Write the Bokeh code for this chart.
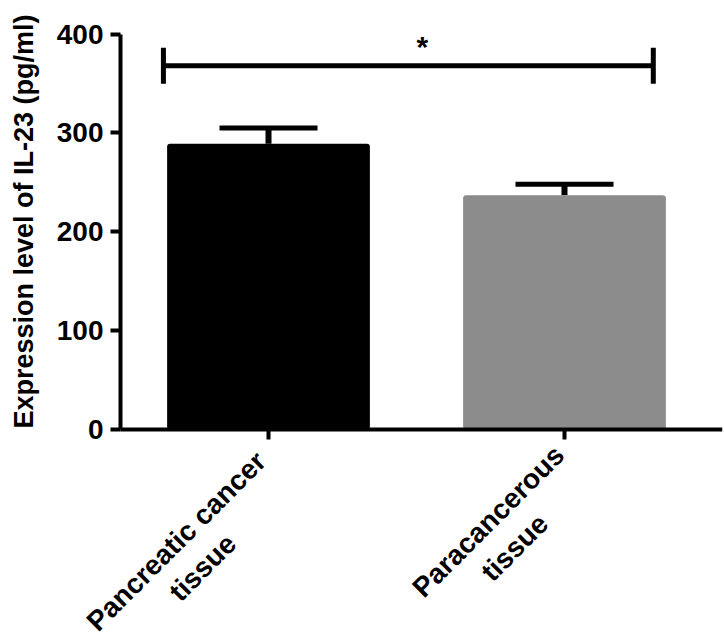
import math
from bokeh.plotting import figure
from bokeh.models import Range1d, FixedTicker, Whisker, TeeHead, ColumnDataSource
from bokeh.embed import file_html
from bokeh.resources import INLINE
from bokeh.core.properties import value

# ---- data ----
categories = ["Pancreatic cancer\ntissue", "Paracancerous\ntissue"]
means = [289, 237]
sems = [16, 11]
bar_colors = ["#000000", "#8c8c8c"]
y_ticks = [0, 100, 200, 300, 400]
y_title = ["Expression level of IL-23 (pg/ml)"]
sig_span = [0.145, 1.80]     # x extent of the significance bracket (category units)
sig_level = [368]
sig_text = ["*"]
sig_text_x = [1.02]
sig_text_y = [387]

FONT = "Liberation Sans"

# ---- layout constants (pixels) ----
W, H = 724, 644
AXIS_X = 120                  # screen x of the y axis
RIGHT = 2
ZERO_PX, TOP_PX = 429, 33.5   # screen y of value 0 and of value 400
PX_X = 296                    # pixels per category

py = (ZERO_PX - TOP_PX) / y_ticks[-1]
y_lo = -(H - ZERO_PX) / py
y_hi = ZERO_PX / py
x_lo = -AXIS_X / PX_X
x_hi = (W - RIGHT - AXIS_X) / PX_X

xpos = [i + 0.5 for i in range(len(categories))]
upper = [m + s for m, s in zip(means, sems)]
src = ColumnDataSource(dict(x=xpos, top=means, upper=upper, color=bar_colors))

p = figure(width=W, height=H,
           x_range=Range1d(x_lo, x_hi), y_range=Range1d(y_lo, y_hi),
           output_backend="svg", toolbar_location=None,
           min_border_left=0, min_border_right=RIGHT,
           min_border_top=0, min_border_bottom=0)

p.vbar(x="x", top="top", width=0.685, fill_color="color", line_color=None,
       border_radius=3, source=src)

err = Whisker(base="x", upper="upper", lower="top", source=src,
              line_color="black", line_width=6,
              upper_head=TeeHead(size=98, line_width=5, line_color="black"),
              lower_head=None)
p.add_layout(err)

sig_src = ColumnDataSource(dict(base=sig_level, lower=[sig_span[0]], upper=[sig_span[1]]))
sig = Whisker(base="base", lower="lower", upper="upper", dimension="width", source=sig_src,
              line_color="black", line_width=5,
              upper_head=TeeHead(size=36, line_width=5, line_color="black"),
              lower_head=TeeHead(size=36, line_width=5, line_color="black"))
p.add_layout(sig)

p.text(x=sig_text_x, y=sig_text_y, text=sig_text, text_font=value(FONT),
       text_font_size="30px", text_font_style="bold", text_color="black",
       text_align="center", text_baseline="alphabetic")

# rotated, centred two-line category labels (block centre offset from tick foot, px)
label_offsets = [(-79, 125), (-63, 105)]
lab_x = [x + dx / PX_X for x, (dx, dy) in zip(xpos, label_offsets)]
lab_y = [-dy / py for (dx, dy) in label_offsets]
p.text(x=lab_x, y=lab_y, text=categories, angle=math.pi / 4,
       text_font=value(FONT), text_font_size="28px", text_font_style="bold",
       text_color="black", text_align="center", text_baseline="middle",
       text_line_height=1.2)

# y-axis title (vertical), centred at screen y=221
p.text(x=[(23 - AXIS_X) / PX_X], y=[(ZERO_PX - 221) / py], text=y_title,
       angle=math.pi / 2, text_font=value(FONT), text_font_size="27px",
       text_font_style="bold", text_color="black",
       text_align="center", text_baseline="alphabetic")

# ---- axes ----
p.xgrid.visible = False
p.ygrid.visible = False
p.outline_line_color = None

for ax in (p.xaxis[0], p.yaxis[0]):
    ax.axis_line_width = 4
    ax.axis_line_color = "black"
    ax.major_tick_line_width = 4
    ax.major_tick_line_color = "black"
    ax.major_tick_in = 0
    ax.major_tick_out = 10
    ax.minor_tick_line_color = None
    ax.major_label_text_font = FONT
    ax.major_label_text_font_style = "bold"
    ax.major_label_text_color = "black"

xa = p.xaxis[0]
xa.ticker = FixedTicker(ticks=xpos)
xa.major_label_overrides = {x: "" for x in xpos}
xa.fixed_location = 0
xa.bounds = (0, x_hi)

ya = p.yaxis[0]
ya.ticker = FixedTicker(ticks=y_ticks)
ya.bounds = (y_ticks[0], y_ticks[-1])
ya.fixed_location = 0
ya.major_label_text_font_size = "28px"
ya.major_label_standoff = 7

open("out.html", "w").write(file_html(p, INLINE))
